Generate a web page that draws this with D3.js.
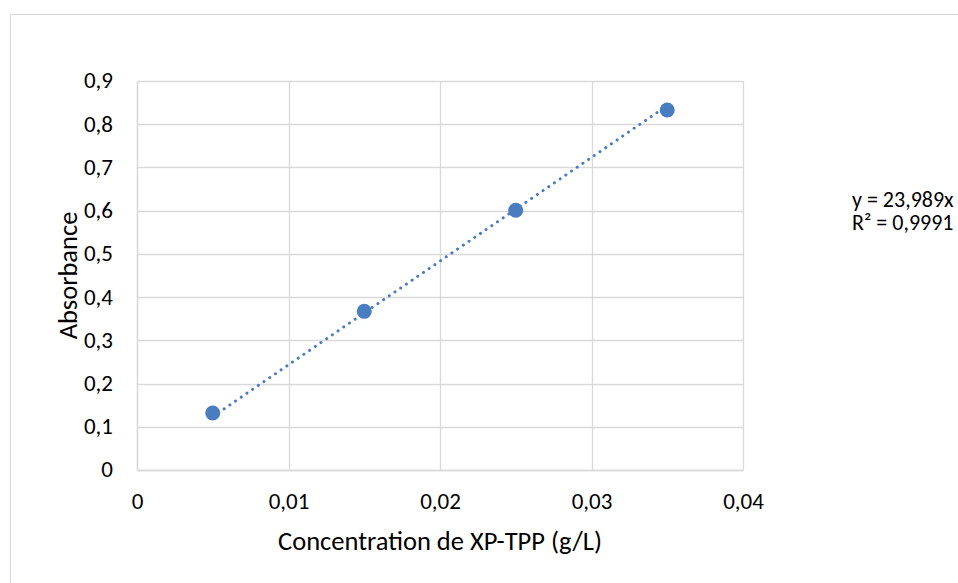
<!DOCTYPE html>
<html>
<head>
<meta charset="utf-8">
<script src="https://cdn.jsdelivr.net/npm/d3@7"></script>
<style>
  html, body { margin: 0; padding: 0; background: #fff; overflow: hidden; }
  svg { display: block; font-family: Calibri, Carlito, "Open Sans", "Noto Sans", sans-serif; }
</style>
</head>
<body>
<div id="chart"></div>
<script>
const concentration = [0.005, 0.015, 0.025, 0.035];
const absorbance = [0.132, 0.367, 0.601, 0.833];
const xTicks = [0, 0.01, 0.02, 0.03, 0.04];
const yTicks = [0, 0.1, 0.2, 0.3, 0.4, 0.5, 0.6, 0.7, 0.8, 0.9];
const slope = 23.989;
const intercept = 0.0035;
const equationLines = ['y = 23,989x', 'R² = 0,9991'];

const width = 958;
const height = 583;
const plot = { left: 137, right: 743, top: 81, bottom: 470 };
const fmt = d => String(d).replace('.', ',');

const svg = d3.select('#chart')
  .append('svg')
    .attr('width', width)
    .attr('height', height);

// outer chart frame (runs off the right and bottom)
svg.append('rect')
  .attr('x', 10.5)
  .attr('y', 14.5)
  .attr('width', 1000)
  .attr('height', 1000)
  .attr('fill', '#fff')
  .attr('stroke', '#d9d9d9')
  .attr('stroke-width', 1);

const x = d3.scaleLinear().domain([0, 0.04]).range([plot.left, plot.right]);
const y = d3.scaleLinear().domain([0, 0.9]).range([plot.bottom, plot.top]);

// gridlines
svg.append('g')
  .selectAll('line.h')
  .data(yTicks)
  .join('line')
    .attr('x1', plot.left)
    .attr('x2', plot.right)
    .attr('y1', d => Math.round(y(d)) + 0.5)
    .attr('y2', d => Math.round(y(d)) + 0.5)
    .attr('stroke', '#d9d9d9')
    .attr('stroke-width', 1.3);

svg.append('g')
  .selectAll('line.v')
  .data(xTicks)
  .join('line')
    .attr('y1', plot.top)
    .attr('y2', plot.bottom)
    .attr('x1', d => Math.round(x(d)) + 0.5)
    .attr('x2', d => Math.round(x(d)) + 0.5)
    .attr('stroke', '#d9d9d9')
    .attr('stroke-width', 1.3);

// axes, styled like Excel (no tick marks)
const xAxis = svg.append('g')
  .attr('transform', `translate(0, ${plot.bottom})`)
  .call(d3.axisBottom(x).tickValues(xTicks).tickFormat(fmt).tickSize(0).tickPadding(23));

const yAxis = svg.append('g')
  .attr('transform', `translate(${plot.left}, 0)`)
  .call(d3.axisLeft(y).tickValues(yTicks).tickFormat(fmt).tickSize(0).tickPadding(24));

[xAxis, yAxis].forEach(ax => {
  ax.attr('font-size', 23).attr('font-family', null);
  ax.select('.domain').attr('stroke', '#d9d9d9').attr('stroke-width', 1.3);
  ax.selectAll('text')
    .attr('fill', '#000')
    .style('font-size', '23px');
});
yAxis.selectAll('text').attr('dy', '0.3em');

// trendline (linear, over the data range)
const xExtent = d3.extent(concentration);
svg.append('line')
  .attr('x1', x(xExtent[0]))
  .attr('y1', y(slope * xExtent[0] + intercept))
  .attr('x2', x(xExtent[1]))
  .attr('y2', y(slope * xExtent[1] + intercept))
  .attr('stroke', '#4a7cc0')
  .attr('stroke-width', 3)
  .attr('stroke-linecap', 'round')
  .attr('stroke-dasharray', '0.1 6.8');

// points
svg.append('g')
  .selectAll('circle')
  .data(concentration.map((c, i) => [c, absorbance[i]]))
  .join('circle')
    .attr('cx', d => x(d[0]))
    .attr('cy', d => y(d[1]))
    .attr('r', 7.5)
    .attr('fill', '#4a7dbf');

// axis titles
svg.append('text')
  .attr('x', 440)
  .attr('y', 550)
  .attr('text-anchor', 'middle')
  .style('font-size', '26.5px')
  .attr('fill', '#000')
  .text('Concentration de XP-TPP (g/L)');

svg.append('text')
  .attr('transform', `translate(77, ${(plot.top + plot.bottom) / 2}) rotate(-90)`)
  .attr('text-anchor', 'middle')
  .style('font-size', '26.5px')
  .attr('fill', '#000')
  .text('Absorbance');

// trendline label
svg.append('g')
  .selectAll('text')
  .data(equationLines)
  .join('text')
    .attr('x', 852)
    .attr('y', (d, i) => 207 + i * 23)
    .style('font-size', '22px')
    .attr('fill', '#000')
    .text(d => d);
</script>
</body>
</html>
